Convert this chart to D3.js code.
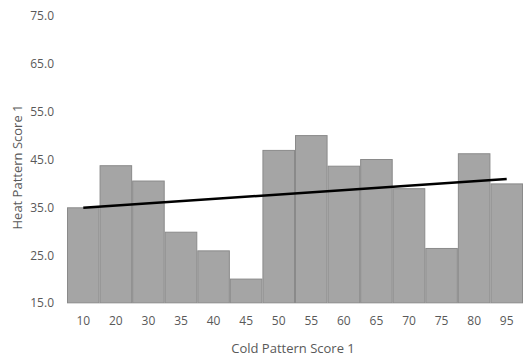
<!DOCTYPE html>
<html><head><meta charset="utf-8">
<script src="https://cdn.jsdelivr.net/npm/d3@7"></script>
<style>body{margin:0;background:#fff}svg{display:block}</style>
</head><body>
<script>
const categories = ["10","20","30","35","40","45","50","55","60","65","70","75","80","95"];
const values = [34.9,43.7,40.5,29.8,25.9,20.0,46.9,50.0,43.6,45.0,38.9,26.4,46.2,39.9];
const trendCats = ["10","95"];
const trendValues = [34.9,40.9];
const yTicks = [15,25,35,45,55,65,75];

const W = 524, H = 362;
const m = {left:67, right:1, top:16, bottom:59};
const svg = d3.select("body").append("svg").attr("width",W).attr("height",H);
const font = "'Open Sans', 'Noto Sans', sans-serif";

const x = d3.scaleBand().domain(categories).range([m.left, W-m.right]).padding(0);
const y = d3.scaleLinear().domain([15,75]).range([H-m.bottom, m.top]);

svg.append("g").selectAll("rect").data(values).join("rect")
  .attr("x",(d,i)=>x(categories[i])+0.5)
  .attr("y",d=>y(d))
  .attr("width",x.bandwidth()-1)
  .attr("height",d=>y(15)-y(d))
  .attr("fill","#a5a5a5")
  .attr("stroke","#8a8a8a")
  .attr("stroke-width",1);

// baseline
svg.append("line").attr("x1",m.left).attr("x2",W-m.right)
  .attr("y1",y(15)+0.5).attr("y2",y(15)+0.5)
  .attr("stroke","#d9d9d9").attr("stroke-width",1);

// trendline
const line = d3.line().x((d,i)=>x(trendCats[i])+x.bandwidth()/2).y(d=>y(d));
svg.append("path").datum(trendValues).attr("d",line)
  .attr("fill","none").attr("stroke","#000").attr("stroke-width",2.5);

// y axis
const ya = d3.axisLeft(y).tickValues(yTicks).tickFormat(d3.format(".1f")).tickSize(0).tickPadding(13);
const yg = svg.append("g").attr("transform",`translate(${m.left},0)`).call(ya);
yg.select(".domain").remove();
yg.selectAll("text").attr("fill","#595959").attr("font-size","12px").attr("font-family",font);

// x axis
const xa = d3.axisBottom(x).tickSize(0).tickPadding(13);
const xg = svg.append("g").attr("transform",`translate(0,${H-m.bottom})`).call(xa);
xg.select(".domain").remove();
xg.selectAll("text").attr("fill","#595959").attr("font-size","12px").attr("font-family",font);

svg.append("text").attr("x",293).attr("y",353).attr("text-anchor","middle")
  .attr("fill","#595959").attr("font-size","13px").attr("font-family",font)
  .text("Cold Pattern Score 1");
svg.append("text").attr("transform","translate(22,167) rotate(-90)").attr("text-anchor","middle")
  .attr("fill","#595959").attr("font-size","13px").attr("font-family",font)
  .text("Heat Pattern Score 1");
</script>
</body></html>
